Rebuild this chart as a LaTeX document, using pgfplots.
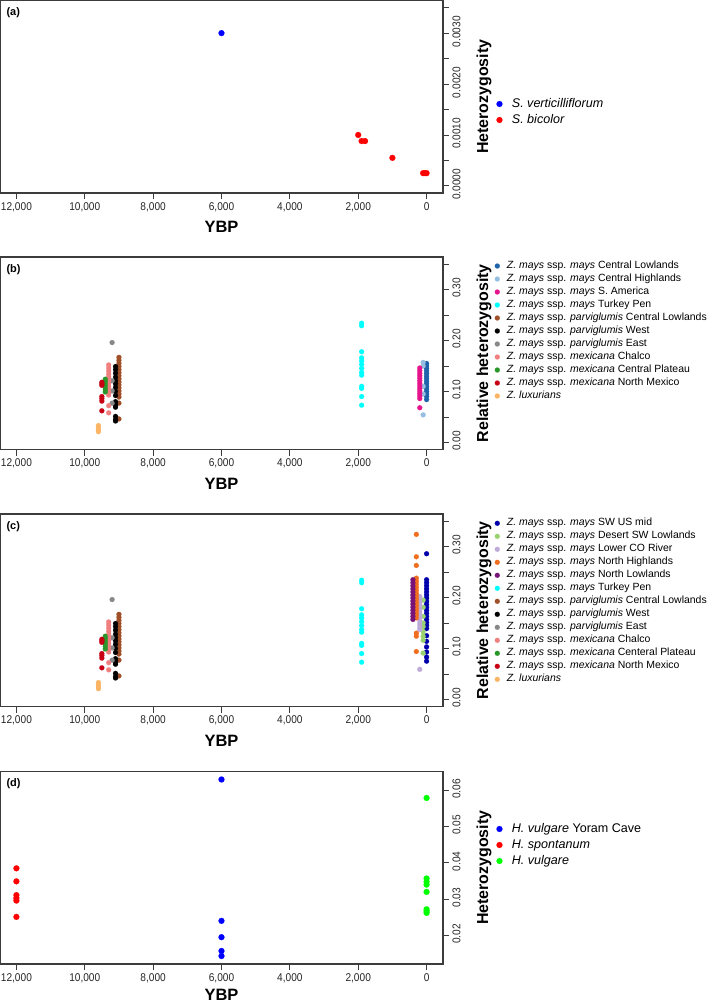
\documentclass[border=0pt]{standalone}
\usepackage{fontspec}
\setmainfont{Liberation Sans}
\newfontfamily\tickfont{Liberation Sans}[FakeStretch=0.9]
\usepackage{pgfplots}
\usepackage{pgfplotstable}
\pgfplotsset{compat=1.18}

\definecolor{axgray}{RGB}{60,60,60}
\definecolor{cCL}{RGB}{31,100,170}
\definecolor{cCH}{RGB}{150,190,225}
\definecolor{cSA}{RGB}{230,20,140}
\definecolor{cTP}{RGB}{0,255,255}
\definecolor{cPCL}{RGB}{160,80,40}
\definecolor{cPW}{RGB}{0,0,0}
\definecolor{cPE}{RGB}{136,136,136}
\definecolor{cMCh}{RGB}{240,128,128}
\definecolor{cMCP}{RGB}{40,150,40}
\definecolor{cMNM}{RGB}{200,0,20}
\definecolor{cLux}{RGB}{250,180,100}
\definecolor{cSW}{RGB}{0,0,170}
\definecolor{cDSW}{RGB}{153,210,110}
\definecolor{cLCO}{RGB}{190,170,215}
\definecolor{cNH}{RGB}{240,110,30}
\definecolor{cNL}{RGB}{120,20,120}

\pgfplotstableread{
x y
1900 0.234
1900 0.229
1900 0.178
1900 0.166
1900 0.160
1900 0.153
1900 0.145
1900 0.137
1900 0.132
1900 0.110
1900 0.106
1900 0.090
1900 0.073
}\tTP
\pgfplotstableread{
x y
9000 0.167
9000 0.161
9000 0.155
9000 0.149
9000 0.143
9000 0.137
9000 0.131
9000 0.125
9000 0.119
9000 0.113
9000 0.107
9000 0.101
9000 0.095
9000 0.089
9000 0.077
9000 0.046
}\tPCL
\pgfplotstableread{
x y
9100 0.149
9100 0.143
9100 0.136
9100 0.128
9100 0.121
9100 0.115
9100 0.108
9100 0.100
9100 0.092
9100 0.080
9100 0.076
9100 0.072
9100 0.069
9100 0.051
9100 0.045
9100 0.042
}\tPW
\pgfplotstableread{
x y
9200 0.196
9200 0.121
9200 0.101
9200 0.077
}\tPE
\pgfplotstableread{
x y
9300 0.152
9300 0.146
9300 0.140
9300 0.134
9300 0.128
9300 0.122
9300 0.116
9300 0.110
9300 0.104
9300 0.098
9300 0.093
9300 0.072
9300 0.058
}\tMCh
\pgfplotstableread{
x y
9400 0.124
9400 0.119
9400 0.114
9400 0.109
9400 0.104
9400 0.099
}\tMCP
\pgfplotstableread{
x y
9500 0.118
9500 0.115
9500 0.112
9500 0.090
9500 0.086
9500 0.081
9500 0.062
}\tMNM
\pgfplotstableread{
x y
9600 0.033
9600 0.029
9600 0.025
9600 0.021
}\tLux

\pgfplotsset{
  panel/.style={
    scale only axis, width=443bp, height=192.5bp,
    anchor=north west,
    x dir=reverse, xmin=-480, xmax=12480,
    xtick={0,2000,4000,6000,8000,10000,12000},
    xticklabels={0,{2,000},{4,000},{6,000},{8,000},{10,000},{12,000}},
    scaled ticks=false,
    tick align=outside, major tick length=6bp, minor tick length=0bp,
    xtick pos=left, ytick pos=right, yticklabel pos=right,
    axis line style={draw=axgray, line width=1.1bp},
    major tick style={draw=axgray, line width=0.8bp},
    ticklabel style={font=\tickfont\fontsize{11.3}{13}\selectfont, text=black!85},
    yticklabel style={rotate=90, anchor=north, xshift=1.5bp},
    xlabel={YBP},
    xlabel style={font=\bfseries\fontsize{16.5}{18}\selectfont, at={(0.5,0)}, anchor=center, yshift=-34bp},
    ylabel style={font=\bfseries\fontsize{16}{18}\selectfont, at={(1.0926,0.5)}, anchor=center},
    legend cell align=left,
  },
  bigdots/.style={
    every axis plot/.append style={only marks, mark=*, mark size=3bp, mark options={line width=0.1bp}},
    legend image code/.code={\draw[mark=*,mark size=3bp,mark options={line width=0.1bp},##1] plot coordinates {(0bp,0bp)};},
    legend style={draw=none, fill=none, at={(1,1)}, anchor=north west, inner sep=0pt, outer sep=0pt, row sep=0pt, column sep=8.4bp,
      font=\fontsize{12.6}{14}\selectfont, nodes={inner xsep=1bp, inner ysep=0pt, text height=11bp, text depth=5bp}},
  },
  smalldots/.style={
    every axis plot/.append style={only marks, mark=*, mark size=2.5bp, mark options={line width=0.1bp}},
    legend image code/.code={\draw[mark=*,mark size=2.5bp,mark options={line width=0.1bp},##1] plot coordinates {(0bp,0bp)};},
    legend style={draw=none, fill=none, at={(1,1)}, anchor=north west, inner sep=0pt, outer sep=0pt, row sep=0pt, column sep=6.2bp,
      font=\fontsize{10.5}{12}\selectfont, nodes={inner xsep=1bp, inner ysep=0pt, text height=9bp, text depth=4bp}},
  },
}

\begin{document}
\begin{tikzpicture}
\path[use as bounding box] (0,0) rectangle (709bp,-1005bp);
% ---------------- (a)
\begin{axis}[panel, bigdots, at={(0,-0.5bp)},
  ymin=-0.00014, ymax=0.00364,
  ytick={0,0.0005,0.001,0.0015,0.002,0.0025,0.003,0.0035},
  yticklabels={0.0000,,0.0010,,0.0020,,0.0030,},
  ylabel={Heterozygosity},
  legend style={xshift=53.5bp, yshift=-95.5bp}]
\addplot[color=blue] coordinates {(6000,0.0030)};
\addlegendentry{\textit{S. verticilliflorum}}
\addplot[color=red] coordinates {(2000,0.0010) (1900,0.00088) (1800,0.00088) (1000,0.00055) (100,0.00025) (50,0.00025) (0,0.00025)};
\addlegendentry{\textit{S. bicolor}}
\node[anchor=north west, font=\bfseries\fontsize{11}{12}\selectfont] at (axis description cs:0,1) [xshift=3bp, yshift=-4bp] {(a)};
\end{axis}

% ---------------- (b)
\begin{axis}[panel, smalldots, at={(0,-257bp)},
  ymin=-0.014, ymax=0.364,
  ytick={0,0.05,0.1,0.15,0.2,0.25,0.3,0.35},
  yticklabels={0.00,,0.10,,0.20,,0.30,},
  ylabel={Relative heterozygosity},
  legend style={xshift=51.8bp, yshift=-2.5bp}]
\addplot[color=cCL] coordinates {(0,0.155) (0,0.150) (0,0.145) (0,0.140) (0,0.135) (0,0.130) (0,0.125) (0,0.120) (0,0.115) (0,0.110) (0,0.105) (0,0.100) (0,0.095) (0,0.090) (0,0.084)};
\addlegendentry{\textit{Z. mays} ssp. \textit{mays} Central Lowlands}
\addplot[color=cCH] coordinates {(100,0.157) (100,0.150) (100,0.110) (100,0.095) (100,0.054)};
\addlegendentry{\textit{Z. mays} ssp. \textit{mays} Central Highlands}
\addplot[color=cSA] coordinates {(200,0.146) (200,0.141) (200,0.136) (200,0.131) (200,0.126) (200,0.121) (200,0.116) (200,0.111) (200,0.106) (200,0.101) (200,0.096) (200,0.091) (200,0.086) (200,0.068)};
\addlegendentry{\textit{Z. mays} ssp. \textit{mays} S. America}
\addplot[color=cTP] table {\tTP};
\addlegendentry{\textit{Z. mays} ssp. \textit{mays} Turkey Pen}
\addplot[color=cPCL] table {\tPCL};
\addlegendentry{\textit{Z. mays} ssp. \textit{parviglumis} Central Lowlands}
\addplot[color=cPW] table {\tPW};
\addlegendentry{\textit{Z. mays} ssp. \textit{parviglumis} West}
\addplot[color=cPE] table {\tPE};
\addlegendentry{\textit{Z. mays} ssp. \textit{parviglumis} East}
\addplot[color=cMCh] table {\tMCh};
\addlegendentry{\textit{Z. mays} ssp. \textit{mexicana} Chalco}
\addplot[color=cMCP] table {\tMCP};
\addlegendentry{\textit{Z. mays} ssp. \textit{mexicana} Central Plateau}
\addplot[color=cMNM] table {\tMNM};
\addlegendentry{\textit{Z. mays} ssp. \textit{mexicana} North Mexico}
\addplot[color=cLux] table {\tLux};
\addlegendentry{\textit{Z. luxurians}}
\node[anchor=north west, font=\bfseries\fontsize{11}{12}\selectfont] at (axis description cs:0,1) [xshift=3bp, yshift=-4bp] {(b)};
\end{axis}

% ---------------- (c)
\begin{axis}[panel, smalldots, at={(0,-514bp)},
  ymin=-0.014, ymax=0.364,
  ytick={0,0.05,0.1,0.15,0.2,0.25,0.3,0.35},
  yticklabels={0.00,,0.10,,0.20,,0.30,},
  ylabel={Relative heterozygosity},
  legend style={xshift=51.8bp, yshift=-2.8bp}]
\addplot[color=cSW] coordinates {(0,0.286) (0,0.235) (0,0.229) (0,0.223) (0,0.217) (0,0.211) (0,0.205) (0,0.199) (0,0.193) (0,0.187) (0,0.181) (0,0.175) (0,0.169) (0,0.163) (0,0.157) (0,0.151) (0,0.145) (0,0.139) (0,0.125) (0,0.114) (0,0.103) (0,0.093) (0,0.083) (0,0.075)};
\addlegendentry{\textit{Z. mays} ssp. \textit{mays} SW US mid}
\addplot[color=cDSW] coordinates {(100,0.195) (100,0.181) (100,0.163) (100,0.150) (100,0.143) (100,0.133) (100,0.124) (100,0.116) (100,0.091)};
\addlegendentry{\textit{Z. mays} ssp. \textit{mays} Desert SW Lowlands}
\addplot[color=cLCO] coordinates {(200,0.202) (200,0.196) (200,0.190) (200,0.184) (200,0.178) (200,0.172) (200,0.166) (200,0.160) (200,0.154) (200,0.148) (200,0.142) (200,0.137) (200,0.059)};
\addlegendentry{\textit{Z. mays} ssp. \textit{mays} Lower CO River}
\addplot[color=cNH] coordinates {(300,0.324) (300,0.280) (300,0.263) (300,0.238) (300,0.232) (300,0.226) (300,0.220) (300,0.214) (300,0.208) (300,0.202) (300,0.196) (300,0.190) (300,0.184) (300,0.178) (300,0.172) (300,0.166) (300,0.160) (300,0.130) (300,0.124) (300,0.094)};
\addlegendentry{\textit{Z. mays} ssp. \textit{mays} North Highlands}
\addplot[color=cNL] coordinates {(400,0.235) (400,0.229) (400,0.223) (400,0.217) (400,0.211) (400,0.205) (400,0.199) (400,0.193) (400,0.187) (400,0.181) (400,0.175) (400,0.169) (400,0.163) (400,0.157)};
\addlegendentry{\textit{Z. mays} ssp. \textit{mays} North Lowlands}
\addplot[color=cTP] table {\tTP};
\addlegendentry{\textit{Z. mays} ssp. \textit{mays} Turkey Pen}
\addplot[color=cPCL] table {\tPCL};
\addlegendentry{\textit{Z. mays} ssp. \textit{parviglumis} Central Lowlands}
\addplot[color=cPW] table {\tPW};
\addlegendentry{\textit{Z. mays} ssp. \textit{parviglumis} West}
\addplot[color=cPE] table {\tPE};
\addlegendentry{\textit{Z. mays} ssp. \textit{parviglumis} East}
\addplot[color=cMCh] table {\tMCh};
\addlegendentry{\textit{Z. mays} ssp. \textit{mexicana} Chalco}
\addplot[color=cMCP] table {\tMCP};
\addlegendentry{\textit{Z. mays} ssp. \textit{mexicana} Centeral Plateau}
\addplot[color=cMNM] table {\tMNM};
\addlegendentry{\textit{Z. mays} ssp. \textit{mexicana} North Mexico}
\addplot[color=cLux] table {\tLux};
\addlegendentry{\textit{Z. luxurians}}
\node[anchor=north west, font=\bfseries\fontsize{11}{12}\selectfont] at (axis description cs:0,1) [xshift=3bp, yshift=-4bp] {(c)};
\end{axis}

% ---------------- (d)
\begin{axis}[panel, bigdots, at={(0,-771.5bp)},
  ymin=0.0121, ymax=0.0652,
  ytick={0.02,0.03,0.04,0.05,0.06},
  yticklabels={0.02,0.03,0.04,0.05,0.06},
  ylabel={Heterozygosity},
  xlabel style={yshift=3.5bp},
  legend style={xshift=53.5bp, yshift=-49.5bp}]
\addplot[color=blue] coordinates {(6000,0.0630) (6000,0.0240) (6000,0.0195) (6000,0.0157) (6000,0.0143)};
\addlegendentry{\textit{H. vulgare} Yoram Cave}
\addplot[color=red] coordinates {(12000,0.0385) (12000,0.0349) (12000,0.0311) (12000,0.0303) (12000,0.0296) (12000,0.0251)};
\addlegendentry{\textit{H. spontanum}}
\addplot[color=green] coordinates {(0,0.0579) (0,0.0357) (0,0.0348) (0,0.0340) (0,0.0320) (0,0.0272) (0,0.0267) (0,0.0262)};
\addlegendentry{\textit{H. vulgare}}
\node[anchor=north west, font=\bfseries\fontsize{11}{12}\selectfont] at (axis description cs:0,1) [xshift=3bp, yshift=-4bp] {(d)};
\end{axis}
\end{tikzpicture}
\end{document}
